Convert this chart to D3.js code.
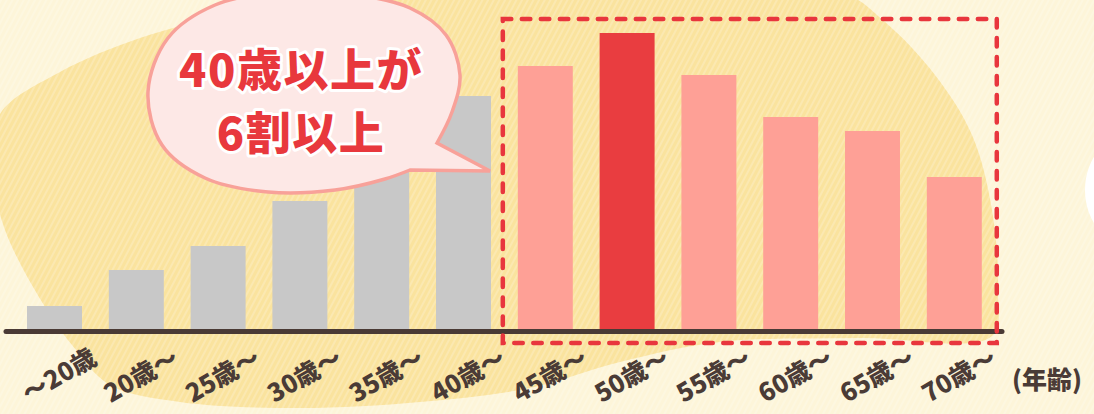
<!DOCTYPE html>
<html><head><meta charset="utf-8">
<script src="https://cdn.jsdelivr.net/npm/d3@7/dist/d3.min.js"></script>
<style>
html,body{margin:0;padding:0;background:#fdf6dc;overflow:hidden}
svg{display:block}
</style></head>
<body>
<svg id="chart" width="1094" height="414"></svg>
<script>
const categories = ["～20歳","20歳～","25歳～","30歳～","35歳～","40歳～","45歳～","50歳～","55歳～","60歳～","65歳～","70歳～"];
const values = [24, 60, 84, 129, 180, 234, 264, 297, 255, 213, 199, 153];
const groups = ["gray","gray","gray","gray","gray","gray","pink","red","pink","pink","pink","pink"];
const bubbleLines = ["40歳以上が", "6割以上"];
const unitLabel = "(年齢)";

const W = 1094, H = 414;
const baseline = 330;
const svg = d3.select("#chart");
const defs = svg.append("defs");

const pat = defs.append("pattern").attr("id","tex").attr("patternUnits","userSpaceOnUse")
  .attr("width",5).attr("height",5).attr("patternTransform","rotate(28)");
pat.append("rect").attr("width",5).attr("height",5).attr("fill","none");
pat.append("line").attr("x1",1).attr("y1",0).attr("x2",1).attr("y2",5)
  .attr("stroke","#ffffff").attr("stroke-width",1.1).attr("stroke-opacity",0.35);

// background
svg.append("rect").attr("width",W).attr("height",H).attr("fill","#fdf5d9");
const blobPts = [[0,114],[60,72],[140,38],[230,14],[330,-10],[600,-12],[840,-8],[885,22],[935,75],[972,135],[992,210],[998,290],[992,336],[860,338],[720,342],[620,362],[530,388],[420,402],[300,408],[180,402],[110,385],[72,345],[42,302],[5,230],[-8,170]];
svg.append("path").attr("d", d3.line().curve(d3.curveCatmullRomClosed)(blobPts)).attr("fill","#fae39e");
svg.append("ellipse").attr("cx",1135).attr("cy",190).attr("rx",50).attr("ry",58).attr("fill","#ffffff");
svg.append("rect").attr("width",W).attr("height",H).attr("fill","url(#tex)");

// scales
const x = d3.scaleBand().domain(categories).range([13.6, 995.2]).paddingInner(0.328).paddingOuter(0.164);
const y = d3.scaleLinear().domain([0,300]).range([baseline, baseline-300]);
const colors = {gray:"#c8c8c8", pink:"#fea096", red:"#e93d40"};

svg.append("g").selectAll("rect").data(categories).join("rect")
  .attr("x", d=>x(d)).attr("width", x.bandwidth())
  .attr("y", (d,i)=>y(values[i])).attr("height",(d,i)=>y(0)-y(values[i]))
  .attr("fill",(d,i)=>colors[groups[i]]);

// axis line
svg.append("line").attr("x1",6).attr("x2",1002).attr("y1",baseline+1.5).attr("y2",baseline+1.5)
  .attr("stroke","#4a3a35").attr("stroke-width",5).attr("stroke-linecap","round");

// dashed highlight box
const hiStart = categories[6], hiEnd = categories[11];
const bx0 = x(hiStart) - 15, bx1 = x(hiEnd) + x.bandwidth() + 15;
const by0 = y(d3.max(values)) - 14, by1 = baseline + 13;
svg.append("rect").attr("x",bx0).attr("y",by0).attr("width",bx1-bx0).attr("height",by1-by0)
  .attr("fill","none").attr("stroke","#e8363d").attr("stroke-width",4.5)
  .attr("stroke-dasharray","8.5 10.5").attr("stroke-linecap","round");

// category labels
const fontFam = "'Noto Sans CJK JP','Noto Sans',sans-serif";
svg.append("g").selectAll("text").data(categories).join("text")
  .attr("transform", d=>`translate(${x(d)+x.bandwidth()/2+44},363) rotate(-30)`)
  .attr("text-anchor","end")
  .attr("font-family",fontFam).attr("font-weight",900).attr("font-size",25)
  .attr("fill","#4a3b36").text(d=>d);

svg.append("text").attr("x",1012).attr("y",389).attr("font-family",fontFam)
  .attr("font-weight",900).attr("font-size",25).attr("fill","#4a3b36").text(unitLabel);

// speech bubble
const bubblePts = [[437,143],[452,112],[460,75],[446,35],[410,8],[350,-6],[280,-8],[215,5],[168,38],[148,92],[162,145],[205,178],[268,192],[335,190],[385,179],[410,170]];
const bubblePath = d3.line().curve(d3.curveCatmullRom.alpha(0.5))(bubblePts) + "L490,171Z";
svg.append("path").attr("d",bubblePath).attr("fill","#fde8e6").attr("stroke","#f8a199").attr("stroke-width",3.5).attr("stroke-linejoin","miter");

svg.append("g").selectAll("text").data(bubbleLines).join("text")
  .attr("x",301).attr("y",(d,i)=>87+i*63)
  .attr("text-anchor","middle").attr("font-family",fontFam).attr("font-weight",900)
  .attr("font-size",45).attr("letter-spacing",1.5).attr("fill","#e8383d")
  .attr("stroke","#ffffff").attr("stroke-width",6).attr("paint-order","stroke").attr("stroke-linejoin","round")
  .text(d=>d);
</script>
</body></html>
